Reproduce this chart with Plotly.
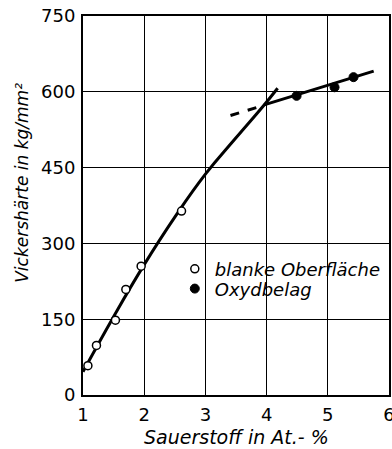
import plotly.graph_objects as go

# Data
open_x = [1.08, 1.22, 1.53, 1.70, 1.95, 2.61]
open_y = [58, 98, 148, 209, 255, 364]
filled_x = [4.49, 5.11, 5.42]
filled_y = [592, 609, 629]
curve_x = [1.0, 1.5, 2.0, 2.5, 3.0, 3.5, 3.96, 4.18]
curve_y = [46, 155, 258, 352, 437, 509, 574, 607]
upper_x = [3.96, 5.75]
upper_y = [574, 641]
dash_x = [3.41, 3.92]
dash_y = [553, 572]
x_ticks = [1, 2, 3, 4, 5, 6]
y_ticks = [0, 150, 300, 450, 600, 750]

fontfam = "DejaVu Sans"

fig = go.Figure()
fig.add_trace(go.Scatter(x=curve_x, y=curve_y, mode="lines",
                         line=dict(color="black", width=3, shape="spline", smoothing=1.3),
                         showlegend=False, hoverinfo="skip"))
fig.add_trace(go.Scatter(x=upper_x, y=upper_y, mode="lines",
                         line=dict(color="black", width=3), showlegend=False))
fig.add_trace(go.Scatter(x=dash_x, y=dash_y, mode="lines",
                         line=dict(color="black", width=3, dash="dash"), showlegend=False))
fig.add_trace(go.Scatter(x=open_x, y=open_y, mode="markers", name="blanke Oberfläche",
                         legend="legend",
                         marker=dict(symbol="circle", size=8, color="white",
                                     line=dict(color="black", width=1.5))))
fig.add_trace(go.Scatter(x=filled_x, y=filled_y, mode="markers", name="Oxydbelag",
                         legend="legend2",
                         marker=dict(symbol="circle", size=9, color="black",
                                     line=dict(color="black", width=1))))

axis_common = dict(showgrid=True, gridcolor="black", gridwidth=1.4,
                   showline=True, linecolor="black", linewidth=2, mirror=True,
                   zeroline=False, ticks="", ticklabeloverflow="allow", automargin=False,
                   tickfont=dict(family=fontfam, size=18, color="black"))

legend_common = dict(xanchor="left", yanchor="middle", bgcolor="rgba(0,0,0,0)",
                     borderwidth=0, itemwidth=30,
                     font=dict(family=fontfam, size=18, color="black", style="italic"))

fig.update_layout(
    width=392, height=449,
    margin=dict(l=83, r=3, t=16, b=54, autoexpand=False),
    paper_bgcolor="white", plot_bgcolor="white",
    xaxis=dict(range=[1, 6], tickvals=x_ticks, ticktext=[str(v) for v in x_ticks],
               ticklabelstandoff=2, **axis_common),
    yaxis=dict(range=[0, 750], tickvals=y_ticks, ticktext=[str(v) for v in y_ticks],
               ticklabelstandoff=2, **axis_common),
    legend=dict(x=0.30, y=0.332, **legend_common),
    legend2=dict(x=0.30, y=0.280, **legend_common),
    annotations=[
        dict(text="Sauerstoff in At.- %", xref="paper", yref="paper",
             x=0.5, y=0, yshift=-29, xanchor="center", yanchor="top",
             showarrow=False,
             font=dict(family=fontfam, size=19, color="black", style="italic")),
        dict(text="Vickershärte in kg/mm²", xref="paper", yref="paper",
             x=0, y=0.56, xshift=-61, xanchor="center", yanchor="middle",
             textangle=-90, showarrow=False,
             font=dict(family=fontfam, size=17, color="black", style="italic")),
    ],
)

fig.write_html("out.html")
